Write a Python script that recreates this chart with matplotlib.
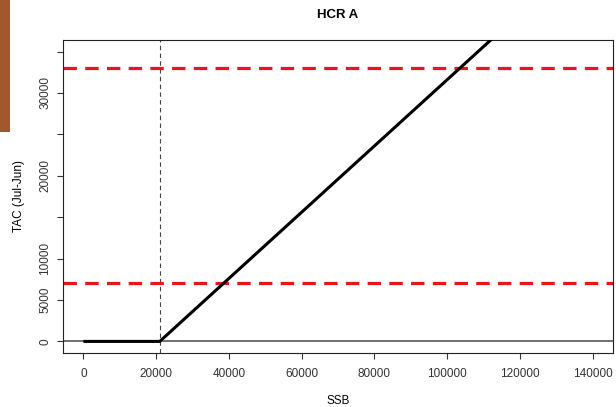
"""HCR A: TAC vs SSB harvest control rule (R base-graphics look)."""

import matplotlib
matplotlib.use("Agg")
import matplotlib.pyplot as plt
from matplotlib.patches import Rectangle

plt.rcParams["font.family"] = ["Liberation Sans", "DejaVu Sans"]

# --- data ---
hcr_ssb = [0, 21000, 140000]
hcr_tac = [0, 0, 47600]
trigger_ssb = 21000
tac_limits = [7000, 33000]

x_ticks = [0, 20000, 40000, 60000, 80000, 100000, 120000, 140000]
x_labels = ["0", "20000", "40000", "60000", "80000", "100000", "120000", "140000"]
y_ticks = [0, 5000, 10000, 15000, 20000, 25000, 30000, 35000]
y_labels = ["0", "5000", "10000", "", "20000", "", "30000", ""]

fig = plt.figure(figsize=(6.16, 4.07), dpi=100)
ax = fig.add_axes([63 / 616, 54 / 407, 550 / 616, 313 / 407])

# brown strip at left edge of the page
fig.add_artist(Rectangle((0, 1 - 132 / 407), 10 / 616, 132 / 407,
                         transform=fig.transFigure, color="#a0582c", lw=0))

ax.axhline(0, color="#666666", lw=1.3, zorder=1)
ax.axvline(trigger_ssb, color="#444444", lw=0.8, ls=(0, (4, 3)), zorder=1)
for lvl in tac_limits:
    ax.axhline(lvl, color="#e8141e", lw=2.3, ls=(0, (4.2, 2.6)), zorder=2)
ax.plot(hcr_ssb, hcr_tac, color="black", lw=2.2, zorder=3,
        solid_capstyle="butt")

ax.set_xlim(-5600, 145600)
ax.set_ylim(-1400, 36400)
ax.set_xticks(x_ticks, x_labels)
ax.set_yticks(y_ticks, y_labels)
for lab in ax.get_yticklabels():
    lab.set_rotation(90)
    lab.set_va("center")
ax.tick_params(direction="out", length=4.5, width=0.8, labelsize=8.5,
               colors="#333333", pad=6)
ax.tick_params(axis="y", pad=4)
for s in ax.spines.values():
    s.set_linewidth(0.8)
    s.set_color("#222222")

ax.set_title("HCR A", fontsize=9.5, fontweight="bold", pad=16)
ax.set_xlabel("SSB", fontsize=8.5, labelpad=11)
ax.set_ylabel("TAC (Jul-Jun)", fontsize=8.5, labelpad=10)

fig.savefig("out.png", dpi=100)
